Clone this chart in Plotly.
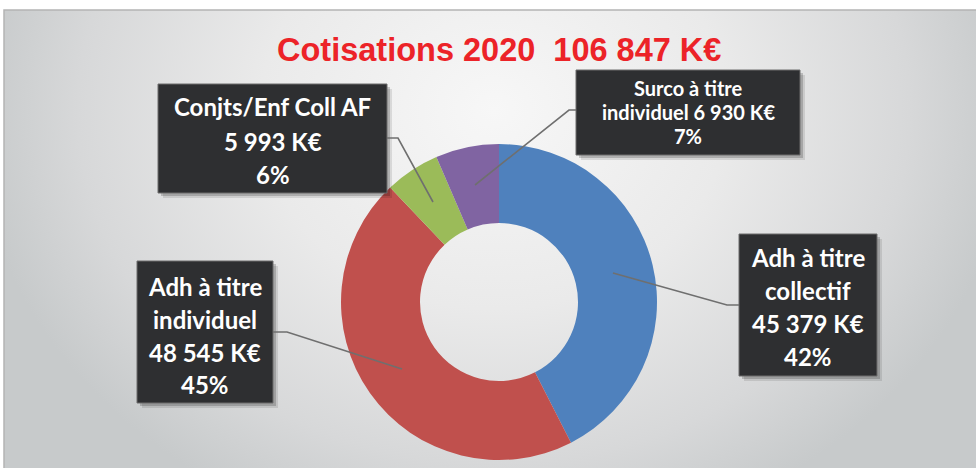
import base64
import plotly.graph_objects as go

# ---------------- data ----------------
labels = ["Adh à titre collectif", "Adh à titre individuel", "Conjts/Enf Coll AF", "Surco à titre individuel"]
values = [45379, 48545, 5993, 6930]
percents = [42, 45, 6, 7]
name_lines = [["Adh à titre", "collectif"], ["Adh à titre", "individuel"],
              ["Conjts/Enf Coll AF"], ["Surco à titre", "individuel"]]
title_text = "Cotisations 2020"

# ---------------- styling ----------------
W, H = 976, 468
colors = ["#4f81bd", "#c0504d", "#9bbb59", "#8064a2"]


def px(x):
    return x / W


def py(y):
    return 1 - y / H


def fmt(v):
    return f"{v:,}".replace(",", " ") + " K€"


# label box geometry (pixels): box x0,x1,y0,y1, line center ys, font size, value joins last name line
boxes = [
    dict(box=(739, 877, 234, 376), ys=[257, 290, 323, 356], size=24, join=False,
         leader=[(613, 273), (727, 305), (739, 305)]),
    dict(box=(137, 273, 261, 403), ys=[286, 319, 352, 384], size=24, join=False,
         leader=[(402, 369), (287, 332), (273, 332)]),
    dict(box=(158, 387, 84, 193), ys=[107, 141, 174], size=24, join=False,
         leader=[(433, 202), (398, 138), (387, 138)]),
    dict(box=(576, 800, 70, 155), ys=[88, 112, 136], size=20, join=True,
         leader=[(475, 185), (569, 110), (576, 110)]),
]

# background gradient as SVG image
bw, bh = 972, 458
svg = f'''<svg xmlns="http://www.w3.org/2000/svg" width="{bw}" height="{bh}" viewBox="0 0 {bw} {bh}" preserveAspectRatio="none">
<defs><radialGradient id="g" gradientUnits="userSpaceOnUse" cx="490" cy="100" r="520" gradientTransform="translate(490 100) scale(1 0.85) translate(-490 -100)">
<stop offset="0" stop-color="#f7f7f7"/><stop offset="0.45" stop-color="#eaeaea"/>
<stop offset="0.8" stop-color="#d7d8d9"/><stop offset="1" stop-color="#c7cacb"/></radialGradient></defs>
<rect x="0" y="0" width="{bw}" height="{bh}" fill="url(#g)"/></svg>'''
bg_src = "data:image/svg+xml;base64," + base64.b64encode(svg.encode()).decode()

fig = go.Figure()
fig.add_trace(go.Pie(
    labels=labels, values=values, sort=False, direction="clockwise", rotation=0,
    hole=0.5, textinfo="none", hoverinfo="label+value+percent",
    marker=dict(colors=colors, line=dict(width=0)),
    domain=dict(x=[px(341), px(657)], y=[py(460), py(144)]),
    showlegend=False,
))

shapes = []
annotations = []

# frame
shapes.append(dict(type="rect", xref="paper", yref="paper", x0=px(4), x1=px(990), y0=py(480), y1=py(10),
                   line=dict(color="#b4b4b4", width=1.5), fillcolor="rgba(0,0,0,0)", layer="below"))

for i, b in enumerate(boxes):
    x0, x1, y0, y1 = b["box"]
    # shadow
    for off, a in [(5, 0.10), (3, 0.18)]:
        shapes.append(dict(type="rect", xref="paper", yref="paper",
                           x0=px(x0 + off), x1=px(x1 + off), y0=py(y1 + off), y1=py(y0 + off),
                           line=dict(width=0), fillcolor=f"rgba(0,0,0,{a})", layer="above"))
    shapes.append(dict(type="rect", xref="paper", yref="paper", x0=px(x0), x1=px(x1), y0=py(y1), y1=py(y0),
                       line=dict(color="#6c6c6c", width=1), fillcolor="#2e2f31", layer="above"))
    # leader line
    pts = b["leader"]
    path = "M " + " L ".join(f"{px(x)},{py(y)}" for x, y in pts)
    shapes.append(dict(type="path", xref="paper", yref="paper", path=path,
                       line=dict(color="#6f6f6f", width=1.6), layer="above"))
    # text lines
    lines = list(name_lines[i])
    if b["join"]:
        lines[-1] = lines[-1] + " " + fmt(values[i])
    else:
        lines.append(fmt(values[i]))
    lines.append(f"{percents[i]}%")
    cx = (x0 + x1) / 2
    for t, yy in zip(lines, b["ys"]):
        annotations.append(dict(xref="paper", yref="paper", x=px(cx), y=py(yy), xanchor="center", yanchor="middle",
                                text=f"<b>{t}</b>", showarrow=False,
                                font=dict(family="Lato, Open Sans, sans-serif", size=b["size"], color="#ffffff")))

# title
annotations.append(dict(xref="paper", yref="paper", x=px(499), y=py(50), xanchor="center", yanchor="middle",
                        text=f"<b>{title_text}\u00a0\u00a0{fmt(sum(values))}</b>", showarrow=False,
                        font=dict(family="Liberation Sans, Arial, sans-serif", size=32.5, color="#ec2328")))

fig.update_layout(
    width=W, height=H, margin=dict(l=0, r=0, t=0, b=0),
    paper_bgcolor="#ffffff", plot_bgcolor="#ffffff",
    shapes=shapes, annotations=annotations,
    images=[dict(source=bg_src, xref="paper", yref="paper", x=px(4), y=py(10),
                 sizex=bw / W, sizey=bh / H, sizing="stretch", xanchor="left", yanchor="top", layer="below")],
)

fig.write_html("out.html", config={"displayModeBar": False},
               post_script="document.body.style.margin='0';document.body.style.overflow='hidden';")
